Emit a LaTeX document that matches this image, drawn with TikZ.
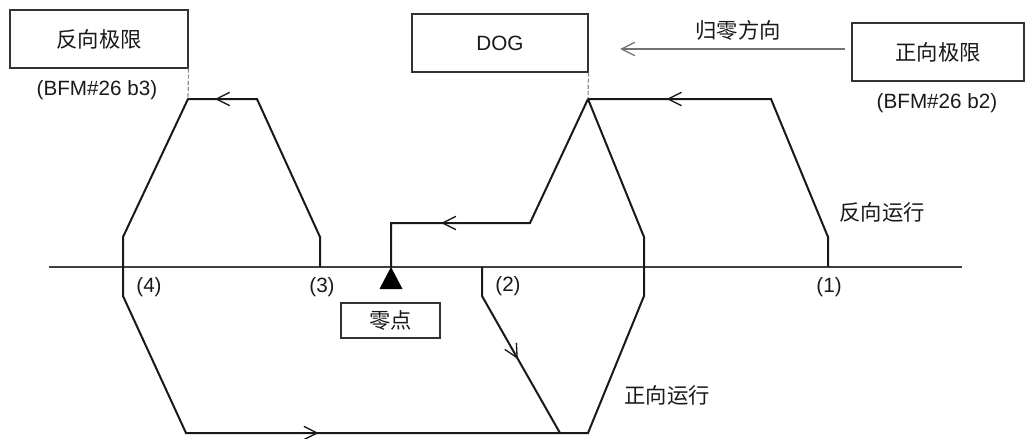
\documentclass[tikz,border=0pt]{standalone}
\usepackage{fontspec}
\setmainfont{Liberation Sans}
\newfontfamily\cjk{Noto Sans CJK SC}
\usetikzlibrary{arrows.meta,decorations.markings}
\tikzset{
  framebox/.style={draw=black!80, line width=0.8pt, inner sep=0pt, minimum height=43.5pt},
  cjklabel/.style={font=\cjk\fontsize{16}{19}\selectfont, text=black!90, inner sep=0pt},
  latlabel/.style={font=\fontsize{15.5}{18}\selectfont, text=black!90, inner sep=0pt},
  route/.style={line width=1.5pt, line join=miter, black!90},
  axisline/.style={line width=0.8pt, black!75},
  limitline/.style={line width=0.9pt, black!45, dash pattern=on 3pt off 1.6pt},
  barb/.style={postaction={decorate}, decoration={markings,
      mark=at position #1 with {\arrow{Straight Barb[length=10pt,width=10pt,line width=1pt]}}}},
}
\begin{document}
\begin{tikzpicture}[x=0.75pt,y=-0.75pt]
\fill[white] (0,0) rectangle (1025,439);
\useasboundingbox (0,0) rectangle (1025,439);

% boxes
\node[framebox, minimum width=133.5pt, cjklabel] (revlim) at (99,39) {反向极限};
\node[framebox, minimum width=132pt, latlabel] (dog) at (500,43) {DOG};
\node[framebox, minimum width=129pt, cjklabel] (fwdlim) at (938,52) {正向极限};
\node[framebox, minimum width=74.25pt, minimum height=26.25pt, cjklabel] (zero) at (390.5,320.5) {零点};

% labels
\node[latlabel] (b3) at (97,90) {(BFM\#26 b3)};
\node[latlabel] (b2) at (937,103) {(BFM\#26 b2)};
\node[cjklabel] (homedir) at (738,30) {归零方向};
\node[cjklabel] (revrun) at (882,212) {反向运行};
\node[cjklabel] (fwdrun) at (667,395) {正向运行};
\node[latlabel] (n4) at (149,287) {(4)};
\node[latlabel] (n3) at (322,287) {(3)};
\node[latlabel] (n2) at (508,286) {(2)};
\node[latlabel] (n1) at (829,287) {(1)};

% coordinates
\coordinate (axL) at (49,267);
\coordinate (axR) at (962,267);
\coordinate (L3a) at (320,267);
\coordinate (L3b) at (320,237);
\coordinate (Ltr) at (257,99);
\coordinate (Ltl) at (188,99);
\coordinate (L4a) at (123,237);
\coordinate (L4b) at (123,296);
\coordinate (Lbl) at (186,433);
\coordinate (Rbr) at (588,433);
\coordinate (Rv2) at (644,296);
\coordinate (Rv1) at (644,237);
\coordinate (Peak) at (588,99);
\coordinate (Rtr) at (771,99);
\coordinate (R1b) at (828,237);
\coordinate (R1a) at (828,267);
\coordinate (M1) at (530,223);
\coordinate (M2) at (391,223);
\coordinate (M3) at (391,267);
\coordinate (P2a) at (482,267);
\coordinate (P2b) at (482,296);
\coordinate (P2c) at (560,433);
\coordinate (hdR) at (845,49);
\coordinate (hdL) at (620,49);

% axis
\draw[axisline] (axL) -- (axR);

% limit marks
\draw[limitline] (revlim.south east) -- (Ltl);
\draw[limitline] (dog.south east) -- (Peak);

% home direction arrow
\draw[line width=1.1pt, black!55, -{Straight Barb[length=10pt,width=10pt,line width=1pt]}] (hdR) -- (hdL);

% routes
\draw[route] (L3a) -- (L3b) -- (Ltr) -- (Ltl) -- (L4a) -- (L4b) -- (Lbl) -- (Rbr) -- (Rv2) -- (Rv1) -- (Peak);
\draw[route] (Peak) -- (Rtr) -- (R1b) -- (R1a);
\draw[route] (Peak) -- (M1) -- (M2) -- (M3);
\draw[route] (P2a) -- (P2b) -- (P2c);

% direction barbs
\path[route, barb=0.61] (Ltr) -- (Ltl);
\path[route, barb=0.57] (Rtr) -- (Peak);
\path[route, barb=0.64] (M1) -- (M2);
\path[route, barb=0.33] (Lbl) -- (Rbr);
\path[route, barb=0.46] (P2b) -- (P2c);

% origin marker
\fill[black] (M3) -- ++(-11.5,22) -- ++(23,0) -- cycle;
\end{tikzpicture}
\end{document}
